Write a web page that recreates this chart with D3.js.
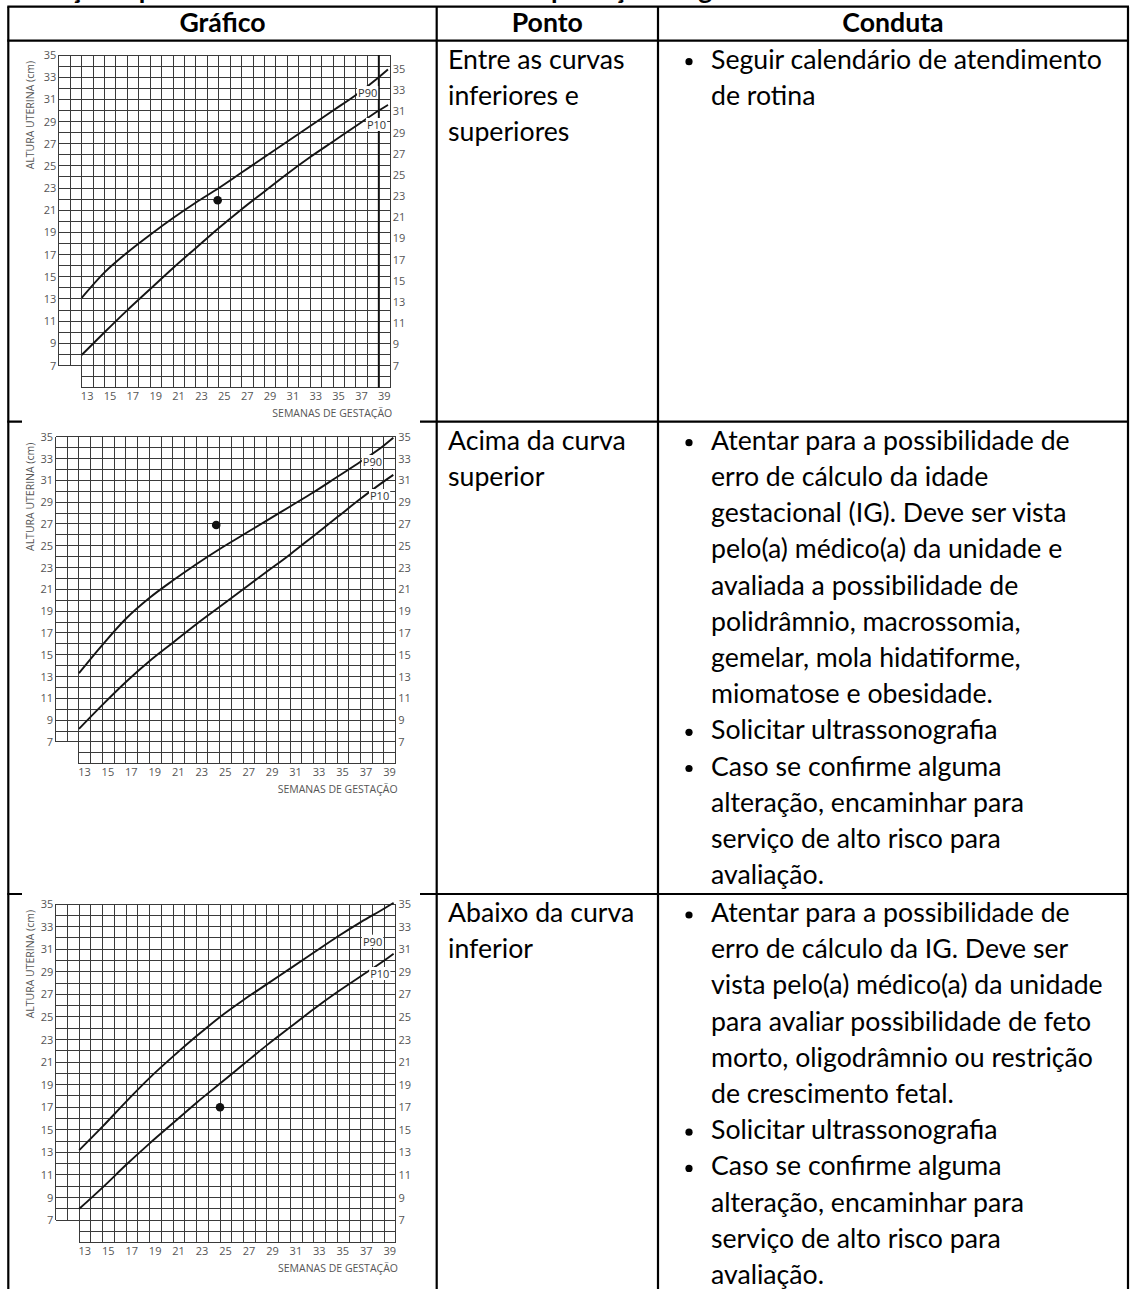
<!DOCTYPE html>
<html>
<head>
<meta charset="utf-8">
<script src="https://cdn.jsdelivr.net/npm/d3@7"></script>
<style>
  body { margin: 0; background: #fff; }
  svg { display: block; }
</style>
</head>
<body>
<script>
const width = 1131, height = 1289;

// tick labels
const weekTicks = [13, 15, 17, 19, 21, 23, 25, 27, 29, 31, 33, 35, 37, 39];
const cmTicks = [7, 9, 11, 13, 15, 17, 19, 21, 23, 25, 27, 29, 31, 33, 35];

// curve samples (weeks) and values (cm)
const curveWeeks = [13, 15, 17, 19, 21, 23, 25, 27, 29, 31, 33, 35, 37, 39, 39.8];
const p90Chart1 = [13.1, 15.4, 17.2, 18.8, 20.3, 21.7, 23.0, 24.4, 25.8, 27.2, 28.6, 30.0, 31.4, 33.0, 33.7];
const p10Chart1 = [7.95, 10.0, 12.0, 13.9, 15.8, 17.6, 19.4, 21.1, 22.7, 24.3, 25.8, 27.2, 28.6, 30.0, 30.5];
const p90Chart2 = [13.3, 15.9, 18.3, 20.2, 21.8, 23.3, 24.7, 26.0, 27.3, 28.6, 29.9, 31.3, 32.7, 34.2, 34.9];
const p10Chart2 = [8.2, 10.4, 12.5, 14.4, 16.1, 17.8, 19.4, 21.0, 22.6, 24.2, 25.9, 27.6, 29.3, 30.9, 31.5];
const p90Chart3 = [13.2, 15.3, 17.5, 19.6, 21.5, 23.3, 25.0, 26.5, 27.9, 29.3, 30.7, 32.1, 33.4, 34.6, 35.1];
const p10Chart3 = [8.0, 9.9, 11.9, 13.8, 15.6, 17.4, 19.1, 20.8, 22.5, 24.1, 25.7, 27.2, 28.6, 30.0, 30.6];

// the plotted point of each chart
const pointWeek = [24.9, 24.7, 25.0];
const pointCm = [21.9, 26.9, 17.0];

// table text
const headers = ['Gráfico', 'Ponto', 'Conduta'];
const pontoLines = [
  ['Entre as curvas', 'inferiores e', 'superiores'],
  ['Acima da curva', 'superior'],
  ['Abaixo da curva', 'inferior']
];
const condutaItems = [
  [['Seguir calendário de atendimento', 'de rotina']],
  [['Atentar para a possibilidade de', 'erro de cálculo da idade', 'gestacional (IG). Deve ser vista',
    'pelo(a) médico(a) da unidade e', 'avaliada a possibilidade de', 'polidrâmnio, macrossomia,',
    'gemelar, mola hidatiforme,', 'miomatose e obesidade.'],
   ['Solicitar ultrassonografia'],
   ['Caso se confirme alguma', 'alteração, encaminhar para', 'serviço de alto risco para', 'avaliação.']],
  [['Atentar para a possibilidade de', 'erro de cálculo da IG. Deve ser', 'vista pelo(a) médico(a) da unidade',
    'para avaliar possibilidade de feto', 'morto, oligodrâmnio ou restrição', 'de crescimento fetal.'],
   ['Solicitar ultrassonografia'],
   ['Caso se confirme alguma', 'alteração, encaminhar para', 'serviço de alto risco para', 'avaliação.']]
];

let svg = d3.select('body').append('svg')
    .attr('width', width)
    .attr('height', height);

// table geometry
let colX = [8.3, 436.7, 658, 1128];
let rowY = [6.7, 40.7, 421.7, 894];

let bodyFont = 'Lato, "Open Sans", sans-serif';

// fit body text size so a long line spans like the reference
let probe = svg.append('text').style('font-family', bodyFont).style('font-size', '24px')
    .text('vista pelo(a) médico(a) da unidade');
let fontSize = 24 * 392 / probe.node().getComputedTextLength();
probe.remove();

// title line above the table, cut off by the top of the page
svg.append('text')
    .attr('x', 10).attr('y', -1.5)
    .style('font-family', bodyFont).style('font-weight', 'bold').style('font-size', fontSize + 'px')
    .text('Situação e providências de acordo com a interpretação do gráfico');

let lines = svg.append('g').attr('stroke', '#000').attr('stroke-width', 2.2);
rowY.forEach(yv => {
    lines.append('line').attr('x1', colX[0] - 1).attr('x2', colX[3] + 1).attr('y1', yv).attr('y2', yv);
});
colX.forEach(xv => {
    lines.append('line').attr('x1', xv).attr('x2', xv).attr('y1', rowY[0]).attr('y2', height);
});

// header
headers.forEach((h, i) => {
    svg.append('text')
        .attr('x', (colX[i] + colX[i + 1]) / 2)
        .attr('y', 32)
        .attr('text-anchor', 'middle')
        .style('font-family', bodyFont).style('font-weight', 'bold').style('font-size', fontSize + 'px')
        .text(h);
});

let lineH = 36.2;
let rowTops = [40.7, 421.7, 894];
rowTops.forEach((top, r) => {
    let base = top + 28;
    pontoLines[r].forEach((t, k) => {
        svg.append('text').attr('x', 448).attr('y', base + k * lineH)
            .style('font-family', bodyFont).style('font-size', fontSize + 'px').text(t);
    });
    let k = 0;
    condutaItems[r].forEach(item => {
        svg.append('circle').attr('cx', 689).attr('cy', base + k * lineH - 7).attr('r', 3.6).attr('fill', '#000');
        item.forEach(t => {
            svg.append('text').attr('x', 711).attr('y', base + k * lineH)
                .style('font-family', bodyFont).style('font-size', fontSize + 'px').text(t);
            k++;
        });
    });
});

// chart placement: left edge (week 11), top (35 cm), column and row size
let layouts = [
    {x0: 58.8, colW: 11.43, y0: 55, rowH: 11.09, rightTop: 69, thick: true, box: [44, 425],
     p90Label: [37.18, 31.57], p10Label: [37.96, 28.69]},
    {x0: 55.5, colW: 11.73, y0: 436.7, rowH: 10.9, rightTop: null, thick: false, box: [419, 897],
     p90Label: [37.2, 32.68], p10Label: [37.81, 29.56]},
    {x0: 55.8, colW: 11.73, y0: 904, rowH: 11.29, rightTop: null, thick: false, box: [890, 1289],
     p90Label: [37.19, 31.66], p10Label: [37.8, 28.8]}
];
let charts = [
    {p90: p90Chart1, p10: p10Chart1},
    {p90: p90Chart2, p10: p10Chart2},
    {p90: p90Chart3, p10: p10Chart3}
];

let axisFont = '"Open Sans", sans-serif';

function drawChart(c, L, i) {
    let x = d3.scaleLinear().domain([11, 40]).range([L.x0, L.x0 + 29 * L.colW]);
    let y = d3.scaleLinear().domain([5, 35]).range([L.y0 + 30 * L.rowH, L.y0]);
    let g = svg.append('g').attr('class', 'chart');

    g.append('rect').attr('x', 22).attr('width', 398)
        .attr('y', L.box[0]).attr('height', L.box[1] - L.box[0]).attr('fill', '#fff');

    let grid = g.append('g').attr('stroke', '#3a3a3a').attr('stroke-width', 1).attr('shape-rendering', 'crispEdges');
    d3.range(11, 41).forEach(w => {
        grid.append('line').attr('x1', x(w)).attr('x2', x(w))
            .attr('y1', y(w < 13 ? 7 : 5)).attr('y2', y(35));
    });
    d3.range(5, 36).forEach(v => {
        grid.append('line').attr('y1', y(v)).attr('y2', y(v))
            .attr('x1', x(v < 7 ? 13 : 11)).attr('x2', x(40));
    });
    if (L.thick) {
        g.append('line').attr('x1', x(39)).attr('x2', x(39)).attr('y1', y(5)).attr('y2', y(35))
            .attr('stroke', '#111').attr('stroke-width', 2);
    }

    let styleAxis = sel => {
        sel.select('.domain').remove();
        sel.selectAll('text').style('font-family', axisFont).style('font-size', '11px').attr('fill', '#555');
    };

    g.append('g').attr('transform', `translate(${x(11)},0)`)
        .call(d3.axisLeft(y).tickValues(cmTicks).tickSize(0).tickPadding(2.5))
        .call(styleAxis);

    let yRight = d3.scaleLinear().domain([7, 35]).range([y(7), L.rightTop == null ? y(35) : L.rightTop]);
    g.append('g').attr('transform', `translate(${x(40)},0)`)
        .call(d3.axisRight(yRight).tickValues(cmTicks).tickSize(0).tickPadding(2.5))
        .call(styleAxis);

    g.append('g').attr('transform', `translate(0,${y(5)})`)
        .call(d3.axisBottom(x).tickValues(weekTicks).tickSize(0).tickPadding(5))
        .call(styleAxis)
        .selectAll('text').attr('dx', 5);

    g.append('text')
        .attr('x', x(40) + 2).attr('y', y(5) + 29)
        .attr('text-anchor', 'end')
        .style('font-family', axisFont).style('font-size', '10.5px').attr('fill', '#555')
        .text('SEMANAS DE GESTAÇÃO');

    g.append('text')
        .attr('transform', `translate(34,${L.y0 + 6}) rotate(-90)`)
        .attr('text-anchor', 'end')
        .style('font-family', axisFont).style('font-size', '10.5px').attr('fill', '#555')
        .text('ALTURA UTERINA (cm)');

    let line = d3.line().x((d, k) => x(curveWeeks[k])).y(d => y(d)).curve(d3.curveMonotoneX);
    [c.p90, c.p10].forEach(vals => {
        g.append('path').attr('d', line(vals))
            .attr('fill', 'none').attr('stroke', '#151515').attr('stroke-width', 1.9);
    });

    [['P90', L.p90Label], ['P10', L.p10Label]].forEach(([name, pos]) => {
        let t = g.append('text')
            .attr('x', x(pos[0])).attr('y', y(pos[1]) + 4)
            .style('font-family', axisFont).style('font-size', '11px').attr('fill', '#333')
            .text(name);
        let bb = t.node().getBBox();
        g.insert('rect', () => t.node())
            .attr('x', bb.x - 1).attr('y', bb.y + 1).attr('width', bb.width + 2).attr('height', bb.height - 2)
            .attr('fill', '#fff');
    });

    g.append('circle').attr('cx', x(pointWeek[i])).attr('cy', y(pointCm[i])).attr('r', 4.3).attr('fill', '#111');
}

charts.forEach((c, i) => drawChart(c, layouts[i], i));
</script>
</body>
</html>
